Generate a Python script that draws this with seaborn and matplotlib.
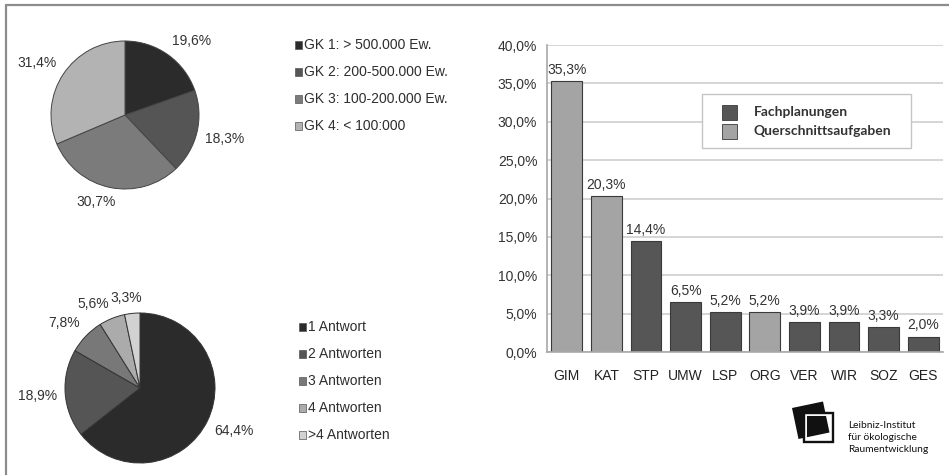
import numpy as np
import pandas as pd
import matplotlib
matplotlib.use("Agg")
import matplotlib.pyplot as plt
import seaborn as sns
from matplotlib.patches import Rectangle, Polygon
from matplotlib.lines import Line2D
from matplotlib.ticker import FuncFormatter, FixedLocator

# --- data -------------------------------------------------------------
size_labels = ["GK 1: > 500.000 Ew.", "GK 2: 200-500.000 Ew.",
               "GK 3: 100-200.000 Ew.", "GK 4: < 100:000"]
size_shares = [19.6, 18.3, 30.7, 31.4]
size_colors = ["#2b2b2b", "#555555", "#7b7b7b", "#b3b3b3"]

answer_labels = ["1 Antwort", "2 Antworten", "3 Antworten", "4 Antworten", ">4 Antworten"]
answer_shares = [64.4, 18.9, 7.8, 5.6, 3.3]
answer_colors = ["#2b2b2b", "#555555", "#787878", "#ababab", "#d2d2d2"]

field_codes = ["GIM", "KAT", "STP", "UMW", "LSP", "ORG", "VER", "WIR", "SOZ", "GES"]
field_shares = [35.3, 20.3, 14.4, 6.5, 5.2, 5.2, 3.9, 3.9, 3.3, 2.0]
field_groups = ["Querschnittsaufgaben", "Querschnittsaufgaben", "Fachplanungen",
                "Fachplanungen", "Fachplanungen", "Querschnittsaufgaben",
                "Fachplanungen", "Fachplanungen", "Fachplanungen", "Fachplanungen"]
group_names = ["Fachplanungen", "Querschnittsaufgaben"]
group_colors = ["#565656", "#a4a4a4"]

logo_lines = ["Leibniz-Institut", "für ökologische", "Raumentwicklung"]

# --- style ------------------------------------------------------------
sns.set_theme(style="white")
plt.rcParams["font.family"] = ["Liberation Sans", "DejaVu Sans"]
plt.rcParams["font.size"] = 10

W, H = 949, 475
fig = plt.figure(figsize=(W / 100, H / 100), dpi=100)
fig.patch.set_facecolor("white")

# overlay axes in pixel units (y measured upward)
ov = fig.add_axes([0, 0, 1, 1])
ov.set_zorder(0)


def pct(v):
    return f"{v:.1f}%".replace(".", ",")


def draw_pie(shares, colors, cx, cy, r, edge):
    wedges, _ = ov.pie(shares, colors=colors, startangle=90, counterclock=False,
                       center=(cx, H - cy), radius=r, frame=True,
                       wedgeprops=dict(edgecolor=edge, linewidth=0.7))
    labels = []
    for w, v in zip(wedges, shares):
        th = np.deg2rad((w.theta1 + w.theta2) / 2)
        ax_ = cx + (r + 8) * np.cos(th)
        ay_ = (H - cy) + (r + 8) * np.sin(th)
        t = ov.text(ax_, ay_, pct(v), ha="center", va="center",
                    fontsize=10, color="#333333")
        labels.append((t, th, ax_, ay_))
    return labels


top_labels = draw_pie(size_shares, size_colors, 125, 115, 74, "#444444")
bot_labels = draw_pie(answer_shares, answer_colors, 140, 388, 75, "#333333")

ov.set_xlim(0, W)
ov.set_ylim(0, H)
ov.set_aspect("auto")
ov.axis("off")


def legend_rows(labels, colors, x_sq, y0, step, size):
    for i, (lab, col) in enumerate(zip(labels, colors)):
        y = H - (y0 + i * step)
        ov.add_patch(Rectangle((x_sq, y - size / 2), size, size, facecolor=col,
                               edgecolor="#555555", linewidth=0.5))
        ov.text(x_sq + size + 1.5, y, lab, ha="left", va="center",
                fontsize=10, color="#2e2e2e")


legend_rows(size_labels, size_colors, 295, 45, 27, 7.5)
legend_rows(answer_labels, answer_colors, 299, 327, 27, 7.5)

# outer frame (left and top edges)
ov.add_line(Line2D([6, 6], [0, H - 5], color="#8c8c8c", lw=1.6))
ov.add_line(Line2D([6, W], [H - 5, H - 5], color="#8c8c8c", lw=1.6))

# institute logo
tl, tr = np.array([792, 408]), np.array([823, 401.5])
side = tr - tl
perp = np.array([-side[1], side[0]])
corners = [tl, tr, tr + perp, tl + perp]
ov.add_patch(Polygon([(p[0], H - p[1]) for p in corners], closed=True,
                     facecolor="#111111", edgecolor="none"))
ov.add_patch(Rectangle((806.0, H - 439.5), 25, 25, fill=False,
                       edgecolor="white", linewidth=1.4))
ov.add_patch(Rectangle((804.0, H - 441.5), 29, 29, fill=False,
                       edgecolor="#111111", linewidth=1.7))
for i, line in enumerate(logo_lines):
    ov.text(848, H - (426 + i * 12), line, ha="left", va="center",
            fontsize=7.4, family=["Lato", "DejaVu Sans"], color="#111111")

# --- bar chart ----------------------------------------------------------
bx = fig.add_axes([547 / W, (H - 352) / H, (943 - 547) / W, (352 - 45) / H])
bx.set_zorder(2)
bx.patch.set_alpha(0)
df = pd.DataFrame({"Feld": field_codes, "Anteil": field_shares, "Gruppe": field_groups})
sns.barplot(data=df, x="Feld", y="Anteil", hue="Gruppe", hue_order=group_names,
            palette=dict(zip(group_names, group_colors)), dodge=False, width=0.78,
            edgecolor="#3a3a3a", linewidth=0.8, legend=False, ax=bx)

for cont in bx.containers:
    bx.bar_label(cont, labels=[pct(v) for v in cont.datavalues], padding=3,
                 fontsize=10, color="#333333")

bx.set_ylim(0, 40)
bx.set_xlim(-0.5, len(field_codes) - 0.5)
bx.yaxis.set_major_locator(FixedLocator(np.arange(0, 40.1, 5)))
bx.yaxis.set_major_formatter(FuncFormatter(lambda v, p: pct(v)))
bx.yaxis.grid(True, color="#d2d2d2", linewidth=1.3)
bx.set_axisbelow(True)
bx.set_xlabel("")
bx.set_ylabel("")
for s in ["top", "right"]:
    bx.spines[s].set_visible(False)
for s in ["left", "bottom"]:
    bx.spines[s].set_color("#a8a8a8")
    bx.spines[s].set_linewidth(1.2)
bx.tick_params(axis="y", which="major", length=4, width=1, color="#a8a8a8",
               direction="out", labelsize=10, labelcolor="#333333", pad=3)
bx.tick_params(axis="x", which="major", length=0, labelsize=10,
               labelcolor="#222222", pad=12)
bx.xaxis.set_minor_locator(FixedLocator(np.arange(-0.5, len(field_codes), 1.0)))
bx.tick_params(axis="x", which="minor", length=5, width=1, color="#a8a8a8",
               direction="out")

# legend box
bx.add_patch(Rectangle((702 / W, 1 - 148 / H), 209 / W, 54 / H,
                       transform=fig.transFigure, facecolor="white",
                       edgecolor="#c4c4c4", linewidth=1.0, zorder=5, clip_on=False))
for i, (name, col) in enumerate(zip(group_names, group_colors)):
    yc = 112 + i * 19
    bx.add_patch(Rectangle((722 / W, 1 - (yc + 7.5) / H), 15 / W, 15 / H,
                           transform=fig.transFigure, facecolor=col,
                           edgecolor="#3a3a3a", linewidth=0.6, zorder=6, clip_on=False))
    fig.text(754 / W, 1 - yc / H, name, ha="left", va="center", fontsize=10,
             family=["Lato", "DejaVu Sans"], weight="bold", color="#333333", zorder=7)

# place pie labels just outside their wedges
fig.canvas.draw()
rend = fig.canvas.get_renderer()
for t, th, ax_, ay_ in top_labels + bot_labels:
    bb = t.get_window_extent(rend)
    c, s = np.cos(th), np.sin(th)
    fx = np.sign(c) * min(1.0, 3 * abs(c))
    fy = np.sign(s) * min(1.0, 3 * abs(s))
    t.set_position((ax_ + bb.width / 2 * fx, ay_ + bb.height / 2 * fy))

fig.savefig("out.png", dpi=100, facecolor="white")
